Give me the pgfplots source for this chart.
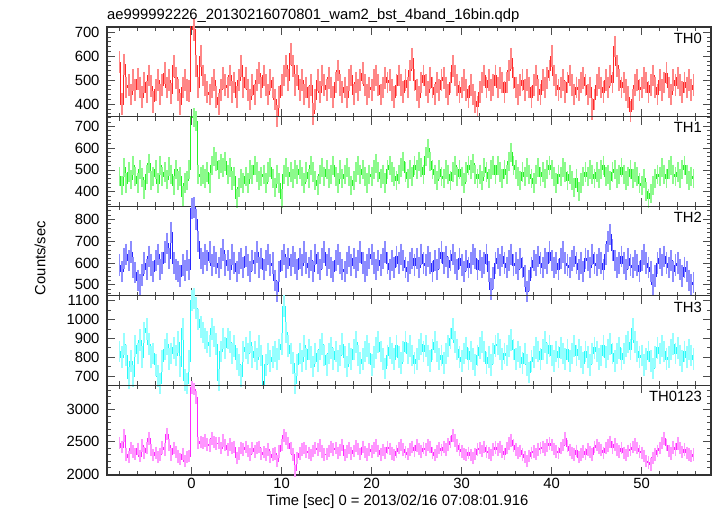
\documentclass[border=0pt]{standalone}
\usepackage{pgfplots}
\usepackage{pgfplotstable}
\pgfplotsset{compat=1.18}
\usepackage{fontspec}
\setmainfont{Liberation Sans}
\newcommand\fnt{\fontsize{14.8bp}{16bp}\selectfont}
\definecolor{dred}{RGB}{255,40,40}\definecolor{lred}{RGB}{255,135,135}
\definecolor{dgreen}{RGB}{40,240,40}\definecolor{lgreen}{RGB}{140,250,140}
\definecolor{dblue}{RGB}{40,40,255}\definecolor{lblue}{RGB}{140,140,255}
\definecolor{dcyan}{RGB}{40,250,250}\definecolor{lcyan}{RGB}{150,255,255}
\definecolor{dmag}{RGB}{255,40,255}\definecolor{lmag}{RGB}{255,150,255}
\pgfplotstableread{
t a b c d e
-8 575 470 590 830 2480
-7.75 400 430 560 800 2420
-7.5 565 510 620 870 2600
-7.25 470 440 640 810 2300
-7 480 490 610 690 2260
-6.75 440 455 650 780 2400
-6.5 500 520 580 700 2350
-6.25 460 470 555 860 2310
-6 505 440 520 820 2390
-5.75 470 500 500 890 2280
-5.5 430 465 545 800 2440
-5.25 490 410 600 930 2330
-5 450 480 570 950 2400
-4.75 520 530 630 870 2550
-4.5 475 450 590 800 2370
-4.25 410 470 560 820 2290
-4 460 500 610 760 2330
-3.75 500 440 640 700 2260
-3.5 440 520 570 660 2300
-3.25 480 470 600 780 2410
-3 530 490 650 840 2380
-2.75 470 455 690 870 2620
-2.5 500 515 620 790 2450
-2.25 445 480 740 820 2300
-2 560 430 600 850 2400
-1.75 510 500 570 810 2340
-1.5 460 450 560 880 2270
-1.25 400 470 540 750 2230
-1 470 380 590 950 2310
-0.75 500 440 565 680 2200
-0.5 460 450 610 660 2260
-0.25 455 500 570 780 2280
0 730 750 850 1100 3340
0.25 710 740 855 1110 3320
0.5 560 725 800 1060 3190
0.75 470 480 700 1000 2480
1 600 470 620 960 2500
1.25 520 480 600 930 2480
1.5 480 460 640 900 2520
1.75 450 490 610 880 2460
2 440 440 650 860 2440
2.25 470 520 590 950 2550
2.5 500 560 630 910 2500
2.75 430 540 600 870 2470
3 400 500 580 680 2480
3.25 460 530 620 830 2400
3.5 510 510 660 900 2520
3.75 480 540 590 850 2450
4 470 480 610 900 2380
4.25 520 510 570 880 2460
4.5 450 450 640 820 2400
4.75 490 470 600 860 2420
5 430 370 560 790 2250
5.25 500 420 600 760 2320
5.5 560 460 620 700 2400
5.75 470 440 580 830 2380
6 510 470 630 850 2420
6.25 460 440 590 820 2360
6.5 420 500 560 880 2300
6.75 480 480 610 800 2400
7 440 520 600 830 2350
7.25 500 490 650 790 2400
7.5 530 450 580 860 2420
7.75 470 470 620 810 2310
8 520 480 570 650 2340
8.25 480 440 610 760 2300
8.5 440 490 640 820 2380
8.75 500 510 590 780 2260
9 470 460 600 800 2300
9.25 420 420 520 830 2320
9.5 350 480 470 790 2200
9.75 430 440 560 840 2350
10 480 370 610 870 2450
10.25 520 480 640 1070 2600
10.5 560 510 580 930 2550
10.75 500 470 620 860 2480
11 610 490 590 820 2400
11.25 560 460 630 770 2300
11.5 480 500 600 660 2050
11.75 520 480 570 760 2250
12 460 500 620 820 2320
12.25 500 470 590 780 2380
12.5 440 440 650 860 2400
12.75 470 490 600 790 2350
13 430 460 580 840 2330
13.25 480 520 610 800 2290
13.5 360 490 560 750 2360
13.75 420 450 640 820 2400
14 500 430 600 780 2380
14.25 450 480 570 840 2440
14.5 520 510 620 870 2350
14.75 480 470 650 810 2300
15 460 500 590 760 2310
15.25 510 460 620 820 2360
15.5 470 480 580 850 2420
15.75 430 520 560 790 2380
16 490 470 610 830 2400
16.25 540 440 640 780 2330
16.5 480 500 600 810 2370
16.75 450 460 570 870 2450
17 470 480 560 800 2290
17.25 430 510 600 750 2350
17.5 500 470 630 820 2400
17.75 520 430 590 790 2320
18 440 450 620 840 2360
18.25 490 490 580 880 2430
18.5 460 520 610 810 2390
18.75 500 480 650 770 2310
19 530 500 600 790 2420
19.25 480 470 560 830 2340
19.5 440 440 590 860 2300
19.75 470 480 620 820 2380
20 460 470 640 760 2350
20.25 500 500 600 800 2400
20.5 520 530 570 850 2440
20.75 480 490 610 880 2360
21 440 460 590 830 2300
21.25 470 480 620 790 2370
21.5 510 440 650 740 2330
21.75 490 500 600 810 2410
22 500 520 570 850 2390
22.25 460 490 610 820 2320
22.5 430 470 580 790 2290
22.75 480 450 630 860 2350
23 520 480 600 800 2400
23.25 480 510 640 770 2450
23.5 450 540 610 830 2380
23.75 500 490 580 880 2340
24 470 460 560 820 2310
24.25 540 500 600 860 2380
24.5 590 470 620 810 2420
24.75 500 520 590 770 2360
25 460 500 620 790 2440
25.25 430 540 580 840 2390
25.5 490 510 640 870 2350
25.75 520 480 600 830 2400
26 480 560 590 860 2380
26.25 450 600 630 810 2450
26.5 510 540 600 780 2420
26.75 470 500 560 840 2330
27 440 480 610 880 2290
27.25 490 450 570 830 2350
27.5 460 500 620 790 2400
27.75 500 470 650 810 2370
28 510 460 600 770 2420
28.25 470 500 630 820 2380
28.5 440 480 580 860 2460
28.75 490 450 610 900 2500
29 560 490 640 950 2600
29.25 520 520 600 880 2520
29.5 480 470 570 840 2440
29.75 450 500 620 800 2380
30 470 470 590 780 2350
30.25 500 440 560 820 2310
30.5 460 490 610 850 2290
30.75 430 520 580 790 2330
31 480 500 600 830 2290
31.25 440 530 640 790 2250
31.5 410 480 620 760 2310
31.75 390 460 570 810 2380
32 450 480 610 850 2400
32.25 490 450 580 880 2360
32.5 520 510 600 830 2420
32.75 470 490 640 770 2350
33 500 460 560 800 2330
33.25 460 500 480 760 2290
33.5 480 520 530 820 2380
33.75 520 480 600 860 2410
34 470 520 620 870 2380
34.25 510 490 590 840 2420
34.5 490 460 630 790 2350
34.75 450 500 600 820 2310
35 490 480 580 810 2400
35.25 540 540 610 860 2470
35.5 590 580 640 890 2520
35.75 510 520 590 840 2440
36 470 500 600 790 2380
36.25 440 470 570 830 2330
36.5 480 450 620 800 2360
36.75 500 490 580 770 2300
37 460 470 540 820 2260
37.25 500 510 470 760 2200
37.5 470 480 520 720 2280
37.75 430 460 580 780 2330
38 480 440 610 800 2350
38.25 520 480 590 850 2310
38.5 460 510 630 830 2380
38.75 440 470 600 790 2400
39 500 490 580 840 2420
39.25 470 460 620 880 2380
39.5 510 500 600 820 2440
39.75 540 520 650 860 2470
40 600 500 610 810 2450
40.25 520 470 580 780 2390
40.5 480 440 600 830 2350
40.75 460 480 570 800 2330
41 470 470 620 850 2400
41.25 500 510 650 820 2450
41.5 450 490 600 790 2550
41.75 490 450 590 840 2430
42 520 480 580 780 2370
42.25 480 450 610 820 2330
42.5 440 420 630 860 2300
42.75 470 460 600 810 2360
43 460 400 570 840 2260
43.25 490 440 600 800 2300
43.5 510 470 560 770 2350
43.75 480 490 620 830 2310
44 440 470 610 800 2380
44.25 470 500 580 760 2340
44.5 380 480 640 820 2300
44.75 420 460 600 850 2420
45 480 490 590 830 2450
45.25 510 460 620 790 2400
45.5 470 500 600 810 2370
45.75 450 520 570 860 2330
46 500 470 640 800 2400
46.25 470 480 700 840 2440
46.5 520 450 730 870 2500
46.75 490 490 660 820 2410
47 640 500 610 780 2460
47.25 560 460 580 820 2380
47.5 500 480 600 850 2350
47.75 470 510 630 790 2400
48 490 480 600 820 2330
48.25 460 450 570 860 2290
48.5 430 470 620 880 2360
48.75 370 500 590 840 2380
49 420 460 580 950 2420
49.25 480 490 610 880 2460
49.5 500 470 590 830 2400
49.75 460 440 560 800 2350
50 470 430 610 810 2330
50.25 510 460 640 760 2280
50.5 490 400 600 790 2200
50.75 450 370 580 830 2180
51 480 390 560 780 2150
51.25 520 430 500 740 2250
51.5 470 460 540 800 2300
51.75 440 480 600 850 2360
52 500 470 620 820 2400
52.25 460 510 590 860 2480
52.5 490 480 630 830 2550
52.75 530 460 600 790 2450
53 470 500 580 800 2360
53.25 440 520 610 840 2320
53.5 500 480 560 870 2410
53.75 480 470 590 820 2380
54 510 490 600 850 2470
54.25 480 460 570 810 2400
54.5 450 500 540 780 2340
54.75 490 520 580 830 2380
55 470 480 560 800 2330
55.25 500 450 520 840 2300
55.5 460 470 500 810 2280
55.75 480 460 510 790 2300
}\data
\pgfplotsset{
  every axis/.append style={
    anchor=south west, scale only axis,
    width=604bp, height=89.6bp,
    xmin=-9.4, xmax=57.7,
    xtick={-10,0,10,20,30,40,50,60}, minor x tick num=4,
    tick align=inside, major tick length=8bp, minor tick length=4bp,
    axis line style={line width=1.1pt, black!80},
    tick style={black!70, line width=0.7pt},
    tick label style={font=\fnt},
    yticklabel style={xshift=-4bp},
    /pgf/number format/assume math mode=true,
    /pgf/number format/set thousands separator={},
    scaled ticks=false,
  },
}
% #1 column, #2 half error length (bp), #3 light colour, #4 dark colour
\newcommand\band[4]{%
  \addplot[only marks, mark=|, mark size=#2, mark options={draw=#3, line width=1.8pt}, forget plot] table[x=t, y=#1]{\data};
  \addplot[#4, line width=0.8pt, const plot mark mid, mark=none] table[x=t, y=#1]{\data};
}
\begin{document}
\begin{tikzpicture}
\path (0,0) rectangle (717bp,516bp);
% TH0
\begin{axis}[at={(107bp,399.4bp)}, xticklabels={}, ymin=348, ymax=722, ytick={300,400,...,800}, minor y tick num=4]
\band{a}{10.8bp}{lred}{dred}
\node[anchor=north east, font=\fnt, inner sep=0pt] at (rel axis cs:0.985,0.933) {TH0};
\end{axis}
% TH1
\begin{axis}[at={(107bp,309.8bp)}, xticklabels={}, ymin=333, ymax=745, ytick={300,400,...,800}, minor y tick num=4]
\band{b}{9.6bp}{lgreen}{dgreen}
\node[anchor=north east, font=\fnt, inner sep=0pt] at (rel axis cs:0.985,0.933) {TH1};
\end{axis}
% TH2
\begin{axis}[at={(107bp,220.2bp)}, xticklabels={}, ymin=449, ymax=861, ytick={400,500,...,900}, minor y tick num=4]
\band{c}{10.7bp}{lblue}{dblue}
\node[anchor=north east, font=\fnt, inner sep=0pt] at (rel axis cs:0.985,0.933) {TH2};
\end{axis}
% TH3
\begin{axis}[at={(107bp,130.6bp)}, xticklabels={}, ymin=651, ymax=1125, ytick={600,700,...,1200}, minor y tick num=1]
\band{d}{10.8bp}{lcyan}{dcyan}
\node[anchor=north east, font=\fnt, inner sep=0pt] at (rel axis cs:0.985,0.933) {TH3};
\end{axis}
% TH0123
\begin{axis}[at={(107bp,41bp)}, ymin=1984, ymax=3375, ytick={1500,2000,...,3500}, minor y tick num=4,
  xticklabels={-10,0,10,20,30,40,50,60}]
\band{e}{6.2bp}{lmag}{dmag}
\node[anchor=north east, font=\fnt, inner sep=0pt] at (rel axis cs:0.985,0.933) {TH0123};
\end{axis}
\node[anchor=base west, font=\fnt, inner sep=0pt] at (107bp,496bp) {ae999992226\_20130216070801\_wam2\_bst\_4band\_16bin.qdp};
\node[anchor=base, font=\fnt, inner sep=0pt] at (397.5bp,11bp) {Time [sec] 0 = 2013/02/16 07:08:01.916};
\node[anchor=center, rotate=90, font=\fnt, inner sep=0pt] at (40bp,258bp) {Counts/sec};
\end{tikzpicture}
\end{document}
